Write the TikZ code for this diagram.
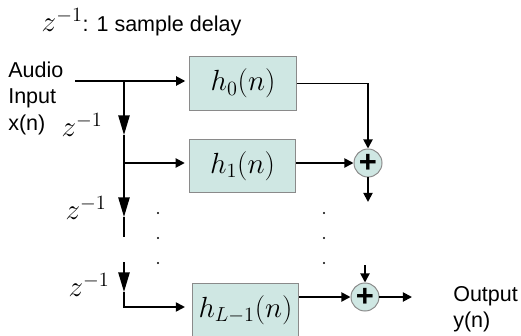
\documentclass[tikz,border=0pt]{standalone}
\usepackage{fontspec}
\setmainfont{Liberation Sans}
\usetikzlibrary{shapes.geometric, arrows.meta}
\definecolor{tealfill}{RGB}{207,231,227}
\definecolor{edgegray}{RGB}{138,138,138}
\tikzstyle{filterbox} = [rectangle, minimum width=2.65cm, minimum height=1.33cm, text centered, draw=edgegray, fill=tealfill, line width=0.7pt, font=\fontsize{19.5}{22}\selectfont]
\tikzstyle{adder} = [circle, minimum size=0.7cm, inner sep=0pt, draw=edgegray, fill=tealfill, line width=0.7pt, font=\fontsize{22}{24}\selectfont\bfseries]
\tikzstyle{wire} = [line width=1.3pt]
\tikzstyle{arrow} = [line width=1.3pt, -{Triangle[length=6.5pt,width=6.5pt]}]
\tikzstyle{delay} = [line width=1.3pt, -{Triangle[length=14pt,width=8pt]}]
\tikzstyle{label} = [font=\fontsize{15.3}{18.85}\selectfont, inner sep=0pt]
\tikzstyle{zlabel} = [font=\fontsize{21}{24}\selectfont, inner sep=0pt]

\begin{document}
\begin{tikzpicture}[x=0.025cm, y=-0.025cm]
\useasboundingbox (0,0) rectangle (521,336);

\node (title) [label] at (141.5,22) {{\fontsize{21}{24}\selectfont$z^{-1}$}: 1 sample delay};

% filters and adders
\node (h0) [filterbox] at (243,83.5) {$h_0(n)$};
\node (h1) [filterbox] at (242.5,166) {$h_1(n)$};
\node (hL) [filterbox] at (245.5,310) {$h_{L-1}(n)$};
\node (sum1) [adder] at (368,163) {+};
\node (sum2) [adder] at (365,297) {+};

% input side
\node (xin) [label, align=left, anchor=west] at (8,98) {Audio\\Input\\x(n)};
\node (z1) [zlabel] at (82,125) {$z^{-1}$};
\node (z2) [zlabel] at (86,208) {$z^{-1}$};
\node (z3) [zlabel] at (89,285) {$z^{-1}$};
\node (yout) [label, align=left, anchor=west] at (453,309) {Output\\y(n)};

\coordinate (in) at (75,81);
\coordinate (split0) at (124,81);
\coordinate (d1) at (124,135);
\coordinate (tap1) at (124,163);
\coordinate (d2) at (124,217);
\coordinate (d2end) at (124,237);
\coordinate (d3start) at (124,262);
\coordinate (d3) at (124,292);
\coordinate (tapL) at (124,307);
\coordinate (s1out) at (368,202);
\coordinate (s2in) at (365,265);
\coordinate (out) at (412,297);

% delay line
\draw [arrow, shorten >=3pt] (in) -- (in -| h0.west);
\draw [delay] (split0) -- (d1);
\draw [wire] (d1) -- (tap1);
\draw [arrow, shorten >=3pt] (tap1) -- (tap1 -| h1.west);
\draw [delay] (tap1) -- (d2);
\draw [wire] (d2) -- (d2end);
\draw [delay] (d3start) -- (d3);
\draw [arrow, shorten >=5pt] (d3) |- (tapL -| hL.west);

% summation
\draw [arrow] (h0.east) -| (sum1.north);
\draw [arrow] (h1.east |- sum1) -- (sum1.west);
\draw [arrow] (sum1.south) -- (s1out);
\draw [arrow] (s2in) -- (sum2.north);
\draw [arrow] (hL.east |- sum2) -- (sum2.west);
\draw [arrow] (sum2.east) -- (out);

% dots
\foreach \y in {213,238,263} {
  \fill (158,\y) circle (1.1);
  \fill (324,\y) circle (1.1);
}

\end{tikzpicture}
\end{document}
